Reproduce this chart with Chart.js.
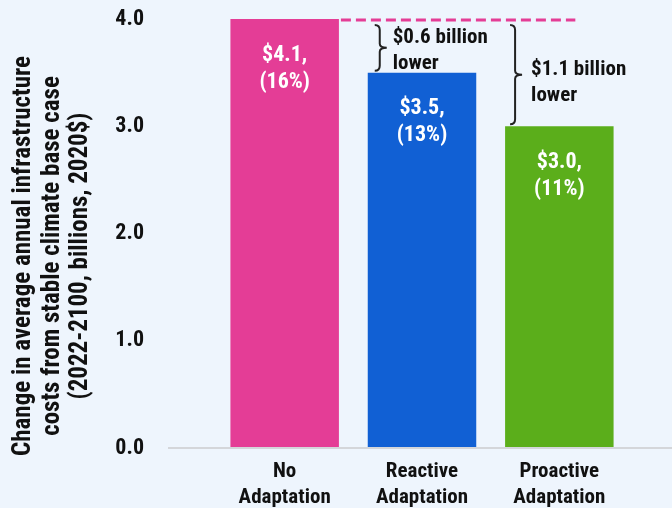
<!DOCTYPE html>
<html>
<head>
<meta charset="utf-8">
<script src="https://cdn.jsdelivr.net/npm/chart.js@4.4.1/dist/chart.umd.min.js"></script>
<style>
  html, body { margin: 0; padding: 0; background: #eef5fd; }
  #wrap { width: 672px; height: 508px; }
</style>
</head>
<body>
<div id="wrap"><canvas id="costs" width="672" height="508"></canvas></div>
<script>
const categories = [['No', 'Adaptation'], ['Reactive', 'Adaptation'], ['Proactive', 'Adaptation']];
const costs = [4.1, 3.5, 3.0];          // billions, 2020$
const shares = [16, 13, 11];            // percent change
const savings = [0.6, 1.1];             // vs no adaptation
const yTicks = [0, 1, 2, 3, 4];
const barColors = ['#e43d96', '#1160d4', '#5bae1b'];
const axisTitle = ['Change in average annual infrastructure', 'costs from stable climate base case', '(2022-2100, billions, 2020$)'];

const FONT = '"Roboto Condensed", "Liberation Sans", Arial, sans-serif';

// baseline, y title, dashed reference line, bar labels and braces
const extras = {
    id: 'extras',
    afterDatasetsDraw(chart) {
        const ctx = chart.ctx;
        const y = chart.scales.y;
        const bars = chart.getDatasetMeta(0).data;
        const area = chart.chartArea;
        const base = y.getPixelForValue(0);

        ctx.save();
        ctx.strokeStyle = '#d4d6da';
        ctx.lineWidth = 2;
        ctx.beginPath();
        ctx.moveTo(168, base);
        ctx.lineTo(chart.width, base);
        ctx.stroke();

        // axis title
        ctx.fillStyle = '#111';
        ctx.font = 'bold 25px ' + FONT;
        ctx.textAlign = 'center';
        ctx.textBaseline = 'middle';
        axisTitle.forEach((line, i) => {
            ctx.save();
            ctx.translate(24 + i * 28.5, 256);
            ctx.rotate(-Math.PI / 2);
            ctx.fillText(line, 0, 0);
            ctx.restore();
        });

        // values inside bars
        ctx.fillStyle = '#fff';
        ctx.font = 'bold 22px ' + FONT;
        bars.forEach((bar, i) => {
            const top = Math.max(bar.y, area.top);
            ctx.fillText('$' + costs[i].toFixed(1) + ',', bar.x, top + 36);
            ctx.fillText('(' + shares[i] + '%)', bar.x, top + 63);
        });

        // dashed line at no-adaptation level
        const refY = Math.max(y.getPixelForValue(costs[0]), area.top) + 1;
        ctx.strokeStyle = barColors[0];
        ctx.lineWidth = 3;
        ctx.setLineDash([10, 5]);
        ctx.beginPath();
        ctx.moveTo(bars[0].x + bars[0].width / 2 + 2, refY);
        ctx.lineTo(bars[2].x + 16, refY);
        ctx.stroke();
        ctx.setLineDash([]);

        // braces showing the savings
        ctx.strokeStyle = '#222';
        ctx.lineWidth = 2;
        ctx.fillStyle = '#111';
        ctx.font = 'bold 21px ' + FONT;
        ctx.textAlign = 'left';
        savings.forEach((s, i) => {
            const bar = bars[i + 1];
            const x = bar.x - bar.width / 2 + (i === 0 ? 12 : 10);
            const y0 = refY + 5;
            const y1 = y.getPixelForValue(costs[0] - s) - 2;
            const mid = (y0 + y1) / 2;
            ctx.beginPath();
            ctx.moveTo(x - 5, y0);
            ctx.quadraticCurveTo(x, y0, x, y0 + 5);
            ctx.lineTo(x, mid - 4);
            ctx.quadraticCurveTo(x, mid, x + 7, mid);
            ctx.quadraticCurveTo(x, mid, x, mid + 4);
            ctx.lineTo(x, y1 - 5);
            ctx.quadraticCurveTo(x, y1, x - 5, y1);
            ctx.stroke();
            const tx = x + (i === 0 ? 13 : 16);
            const ty = i === 0 ? y0 + 13 : mid - 5;
            ctx.fillText('$' + s.toFixed(1) + ' billion', tx, ty);
            ctx.fillText('lower', tx, ty + 26);
        });
        ctx.restore();
    }
};

new Chart(document.getElementById('costs'), {
    type: 'bar',
    data: {
        labels: categories,
        datasets: [{
            data: costs,
            backgroundColor: barColors,
            barPercentage: 0.79,
            categoryPercentage: 1
        }]
    },
    options: {
        responsive: false,
        animation: false,
        layout: { padding: { top: 19, right: 44, left: 0, bottom: 0 } },
        plugins: {
            legend: { display: false },
            tooltip: { enabled: false }
        },
        scales: {
            x: {
                grid: { display: false, drawTicks: false },
                border: { display: false },
                ticks: {
                    color: '#111',
                    padding: 11,
                    maxRotation: 0,
                    font: { family: FONT, size: 21, weight: 'bold', lineHeight: 1.22 }
                },
                afterFit(scale) { scale.height = 60; }
            },
            y: {
                min: 0,
                max: 4,
                grid: { display: false, drawTicks: false },
                border: { display: false },
                afterBuildTicks(scale) { scale.ticks = yTicks.map(v => ({ value: v })); },
                ticks: {
                    color: '#111',
                    padding: 72,
                    font: { family: FONT, size: 22, weight: 'bold' },
                    callback: v => v.toFixed(1)
                },
                afterFit(scale) {
                    scale.width = 216;
                    scale.paddingTop = 10;
                    scale.paddingBottom = 10;
                }
            }
        }
    },
    plugins: [extras]
});
</script>
</body>
</html>
